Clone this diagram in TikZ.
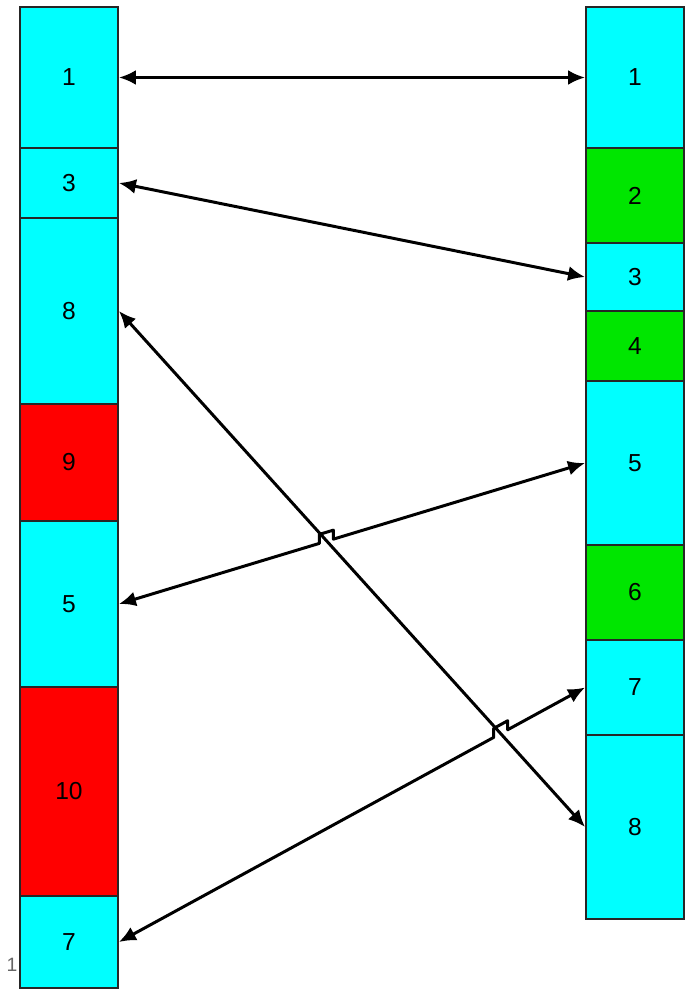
\documentclass[tikz,border=0pt]{standalone}
\usepackage{fontspec}
\setmainfont{Liberation Sans}
\usetikzlibrary{arrows.meta,calc}
\definecolor{segcyan}{RGB}{0,255,255}
\definecolor{segred}{RGB}{255,0,0}
\definecolor{seggreen}{RGB}{0,230,0}
\begin{document}
\begin{tikzpicture}[x=0.02cm, y=-0.02cm, every node/.style={font=\fontsize{14}{16}\selectfont}, >={Latex[length=0.34cm, width=0.3cm]}, blk/.style={draw=black!85, line width=1.1pt, minimum width=1.96cm, inner sep=0pt}, cyanblk/.style={blk, fill=segcyan}, redblk/.style={blk, fill=segred}, greenblk/.style={blk, fill=seggreen}, link/.style={<->, line width=1.7pt, line join=round}]
	\useasboundingbox (0,0) rectangle (687,990);
	% left column
	\node[cyanblk, minimum height=2.82cm] (l1) at (69,77.5) {1};
	\node[cyanblk, minimum height=1.4cm] (l3) at (69,183) {3};
	\node[cyanblk, minimum height=3.72cm] (l8) at (69,311) {8};
	\node[redblk, minimum height=2.34cm] (l9) at (69,462.5) {9};
	\node[cyanblk, minimum height=3.32cm] (l5) at (69,604) {5};
	\node[redblk, minimum height=4.18cm] (l10) at (69,791.5) {10};
	\node[cyanblk, minimum height=1.84cm] (l7) at (69,942) {7};
	% right column
	\node[cyanblk, minimum height=2.82cm] (r1) at (635,77.5) {1};
	\node[greenblk, minimum height=1.9cm] (r2) at (635,195.5) {2};
	\node[cyanblk, minimum height=1.36cm] (r3) at (635,277) {3};
	\node[greenblk, minimum height=1.4cm] (r4) at (635,346) {4};
	\node[cyanblk, minimum height=3.28cm] (r5) at (635,463) {5};
	\node[greenblk, minimum height=1.9cm] (r6) at (635,592.5) {6};
	\node[cyanblk, minimum height=1.9cm] (r7) at (635,687.5) {7};
	\node[cyanblk, minimum height=3.68cm] (r8) at (635,827) {8};
	\node[text=black!60, font=\fontsize{11}{13}\selectfont] (pg) at (12,965) {1};
	% links
	\draw[link] (l1.east) -- (r1.west);
	\draw[link] (l3.east) -- (r3.west);
	\draw[link] (l8.east) -- (r8.west);
	\draw[link] (l5.east) -- ($(l5.east)!0.43!(r5.west)$) -- ++(0,-9) -- ($(l5.east)!0.46!(r5.west)+(0,-9)$) -- ($(l5.east)!0.46!(r5.west)$) -- (r5.west);
	\draw[link] (l7.east) -- ($(l7.east)!0.804!(r7.west)$) -- ++(0,-9) -- ($(l7.east)!0.834!(r7.west)+(0,-9)$) -- ($(l7.east)!0.834!(r7.west)$) -- (r7.west);
\end{tikzpicture}
\end{document}
